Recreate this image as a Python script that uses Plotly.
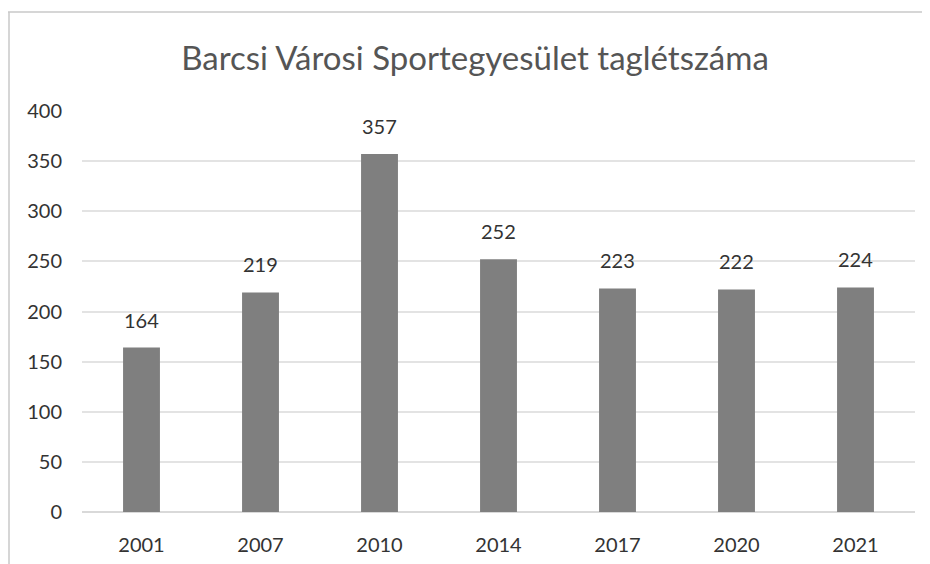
import plotly.graph_objects as go

years = ["2001", "2007", "2010", "2014", "2017", "2020", "2021"]
members = [164, 219, 357, 252, 223, 222, 224]
y_ticks = [0, 50, 100, 150, 200, 250, 300, 350, 400]
title_text = "Barcsi Városi Sportegyesület taglétszáma"

FONT = "Lato, Carlito, Calibri, sans-serif"

fig = go.Figure()
fig.add_trace(go.Bar(
    x=years, y=members,
    marker=dict(color="#7f7f7f", line=dict(width=0)),
    width=0.31,
    hoverinfo="x+y",
))

# value labels (category index positions on the category axis)
for i, v in enumerate(members):
    fig.add_annotation(x=i, y=v, xref="x", yref="y", text=str(v),
                       showarrow=False, yanchor="bottom", yshift=14,
                       font=dict(family=FONT, size=20, color="#333333"))

# chart frame (top and left edges visible in the scan)
L, T = 74, 103
fig.add_shape(type="line", xref="paper", yref="paper",
              x0=(0 - L) / 833, x1=(940 - L) / 833,
              y0=1 + (T - 4) / 401, y1=1 + (T - 4) / 401,
              line=dict(color="#c8c8c8", width=1.5))
fig.add_shape(type="line", xref="paper", yref="paper",
              x0=(1 - L) / 833, x1=(1 - L) / 833,
              y0=-70 / 401, y1=1 + (T - 4) / 401,
              line=dict(color="#c8c8c8", width=1.5))

fig.update_layout(
    width=930, height=564,
    margin=dict(l=L, r=23, t=T, b=60),
    paper_bgcolor="white", plot_bgcolor="white",
    showlegend=False,
    title=dict(text=title_text, x=467 / 930, xanchor="center",
               y=1 - 50 / 564, yanchor="middle",
               font=dict(family=FONT, size=33, color="#555555")),
    bargap=0.69,
    font=dict(family=FONT),
)
fig.update_xaxes(type="category", range=[-0.5, len(years) - 0.5],
                 showgrid=False, showline=False, ticks="",
                 tickfont=dict(family=FONT, size=20, color="#333333"),
                 ticklabelstandoff=19)
fig.update_yaxes(range=[0, 400], tickvals=y_ticks, showgrid=True,
                 gridcolor="#e3e3e3", gridwidth=1.5, zeroline=True,
                 zerolinecolor="#d9d9d9", zerolinewidth=1.5, showline=False,
                 tickfont=dict(family=FONT, size=20, color="#333333"),
                 ticklabelstandoff=19)

fig.write_html("out.html")
